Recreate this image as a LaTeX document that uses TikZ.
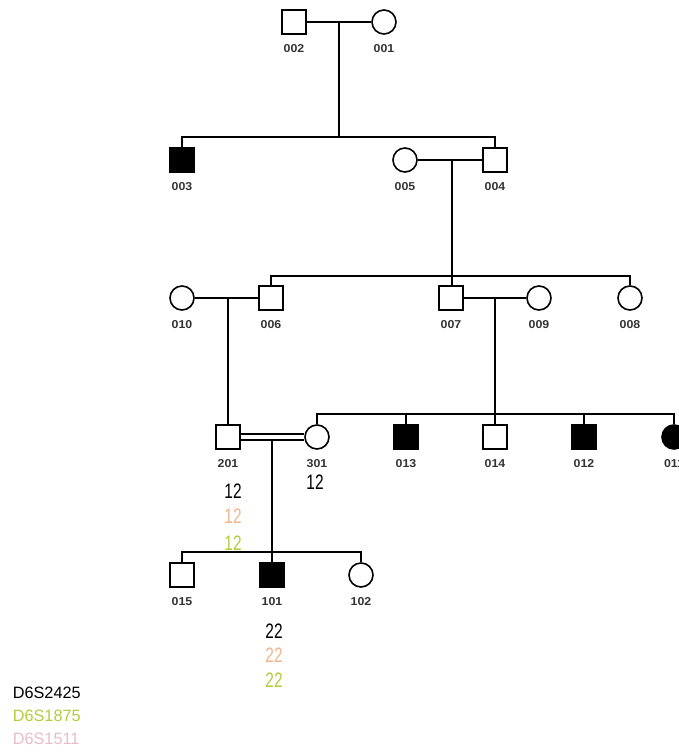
\documentclass[tikz,border=0pt]{standalone}
\usepackage{fontspec}
\setmainfont{Liberation Sans}
\definecolor{geno2}{HTML}{F2B48C}
\definecolor{geno3}{HTML}{B4CC3C}
\definecolor{geno4}{HTML}{E8BCCC}
\definecolor{lbl}{HTML}{333333}
\begin{document}
\begin{tikzpicture}[x=1bp,y=-1bp,line width=1.7bp,
  ind/.style={draw=black,line width=1.6bp,minimum size=24bp,inner sep=0pt,fill=white,
    label={[lbl,font=\fontsize{11.5}{11.5}\selectfont\bfseries,xscale=1.08,inner sep=0pt,label distance=9bp]below:#1}},
  male/.style={ind=#1,rectangle},
  female/.style={ind=#1,circle},
  aff/.style={fill=black},
  geno/.style={font=\fontsize{21}{21}\selectfont,xscale=0.74,inner sep=0pt},
  legend/.style={font=\fontsize{16.5}{16.5}\selectfont,xscale=0.99,inner sep=0pt,anchor=west}]
\useasboundingbox (0,0) rectangle (679,754);
\clip (0,0) rectangle (679,754);
% coordinates
\coordinate (m1) at (339,22);
\coordinate (s1) at (339,137);
\coordinate (m2) at (452,160);
\coordinate (s2) at (452,276);
\coordinate (m3) at (228,298);
\coordinate (m4) at (495,298);
\coordinate (s4) at (495,414);
\coordinate (m5) at (272,440);
\coordinate (s5) at (272,552);
% descent lines first (drawn below nodes)
\draw (m1) -- (s1);
\draw (m2) -- (s2);
\draw (m4) -- (s4);
\draw (m5) -- (s5);
% nodes
\node[male=002] (p002) at (294,22) {};
\node[female=001] (p001) at (384,22) {};
\node[male=003,aff] (p003) at (182,160) {};
\node[female=005] (p005) at (405,160) {};
\node[male=004] (p004) at (495,160) {};
\node[female=010] (p010) at (182,298) {};
\node[male=006] (p006) at (271,298) {};
\node[male=007] (p007) at (451,298) {};
\node[female=009] (p009) at (539,298) {};
\node[female=008] (p008) at (630,298) {};
\node[male=201] (p201) at (228,437) {};
\node[female=301] (p301) at (317,437) {};
\node[male=013,aff] (p013) at (406,437) {};
\node[male=014] (p014) at (495,437) {};
\node[male=012,aff] (p012) at (584,437) {};
\node[female=011,aff] (p011) at (674,437) {};
\node[male=015] (p015) at (182,575) {};
\node[male=101,aff] (p101) at (272,575) {};
\node[female=102] (p102) at (361,575) {};
% matings
\draw (p002) -- (p001);
\draw (p005) -- (p004);
\draw (p010) -- (p006);
\draw (p007) -- (p009);
\draw[double,double distance=4.5bp,line width=1.5bp] (p201) -- (p301);
\draw (m3) -- (p201);
% sibships
\draw (p003.north) |- (s1) -| (p004.north);
\draw (p006.north) |- (s2) -| (p008.north);
\draw (s2) -- (s2 |- p007.north);
\draw (p301.north) |- (s4) -| (p011.north);
\draw (s4) -- (p014.north);
\draw (p013.north) -- (p013.north |- s4);
\draw (p012.north) -- (p012.north |- s4);
\draw (p015.north) |- (s5) -| (p102.north);
\draw (s5) -- (p101.north);
% genotypes
\node[geno] (g201a) at (233,491) {12};
\node[geno,text=geno2] (g201b) at (233,516) {12};
\node[geno,text=geno3] (g201c) at (233,543) {12};
\node[geno] (g301a) at (315,482) {12};
\node[geno] (g101a) at (274,631) {22};
\node[geno,text=geno2] (g101b) at (274,655) {22};
\node[geno,text=geno3] (g101c) at (274,680) {22};
% legend
\node[legend] (lg1) at (12,693) {D6S2425};
\node[legend,text=geno3] (lg2) at (12,716) {D6S1875};
\node[legend,text=geno4] (lg3) at (12,739) {D6S1511};
\end{tikzpicture}
\end{document}
